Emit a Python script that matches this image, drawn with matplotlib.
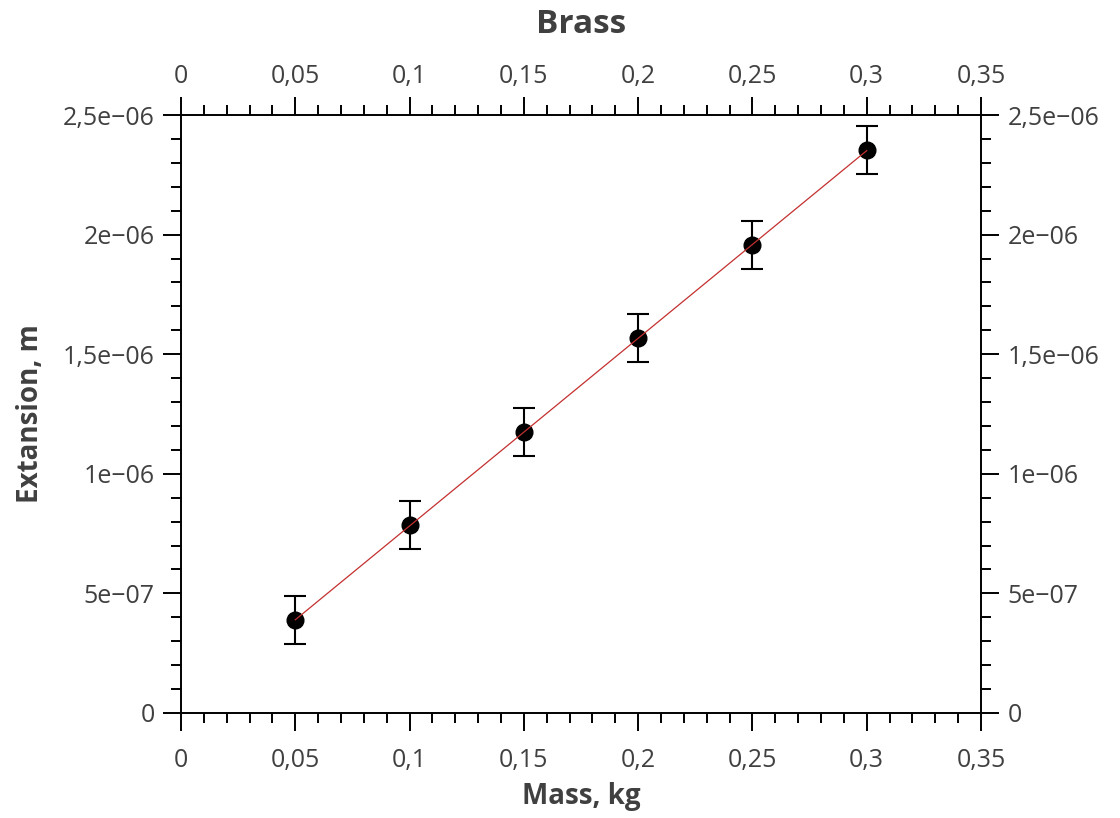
import matplotlib
matplotlib.use("Agg")
import matplotlib.pyplot as plt
import matplotlib.transforms as mtransforms
import numpy as np
from matplotlib.ticker import MultipleLocator, FuncFormatter

mass = [0.05, 0.10, 0.15, 0.20, 0.25, 0.30]
extension = [0.388e-6, 0.785e-6, 1.174e-6, 1.566e-6, 1.956e-6, 2.353e-6]
ext_err = [1e-7, 1e-7, 1e-7, 1e-7, 1e-7, 1e-7]

title = "Brass"
xlabel = "Mass, kg"
ylabel = "Extansion, m"

plt.rcParams['font.family'] = ['Open Sans', 'DejaVu Sans']
text_col = '#404040'


def comma_fmt(v, pos):
    s = '%g' % v
    return s.replace('.', ',').replace('-', '\u2212')


fig = plt.figure(figsize=(11.2, 8.18), dpi=100)
ax = fig.add_axes([0.1616, 0.1284, 0.7143, 0.7310])

# linear fit through the points
k, b = np.polyfit(mass, extension, 1)
xf = np.array([mass[0], mass[-1]])

ax.errorbar(mass, extension, yerr=ext_err, fmt='o', color='black',
            markersize=12, elinewidth=1.5, capsize=8, capthick=1.5, zorder=2)
ax.plot(xf, k * xf + b, color='#c43030', lw=0.9, zorder=3)

ax.set_xlim(0, 0.35)
ax.set_ylim(0, 2.5e-6)
ax.xaxis.set_major_locator(MultipleLocator(0.05))
ax.xaxis.set_minor_locator(MultipleLocator(0.01))
ax.yaxis.set_major_locator(MultipleLocator(5e-7))
ax.yaxis.set_minor_locator(MultipleLocator(1e-7))
ax.xaxis.set_major_formatter(FuncFormatter(comma_fmt))
ax.yaxis.set_major_formatter(FuncFormatter(comma_fmt))

ax.tick_params(which='both', direction='out', top=True, right=True,
               labeltop=True, labelright=True, colors='black',
               labelcolor=text_col, labelsize=18, width=1.4)
ax.tick_params(which='major', length=13, pad=6)
ax.tick_params(which='minor', length=7.5)
for s in ax.spines.values():
    s.set_linewidth(1.4)

# bottom tick labels sit a little further from the axis than the top ones
shift = mtransforms.ScaledTranslation(0, -6 / 72, fig.dpi_scale_trans)
for t in ax.xaxis.get_major_ticks():
    t.label1.set_transform(t.label1.get_transform() + shift)

ax.set_xlabel(xlabel, fontsize=20, fontweight='bold', color=text_col, labelpad=7)
ax.set_ylabel(ylabel, fontsize=20, fontweight='bold', color=text_col, labelpad=13)
ax.set_title(title, fontsize=24, fontweight='bold', color=text_col, pad=22)

fig.savefig('out.png', dpi=100)
plt.close(fig)
